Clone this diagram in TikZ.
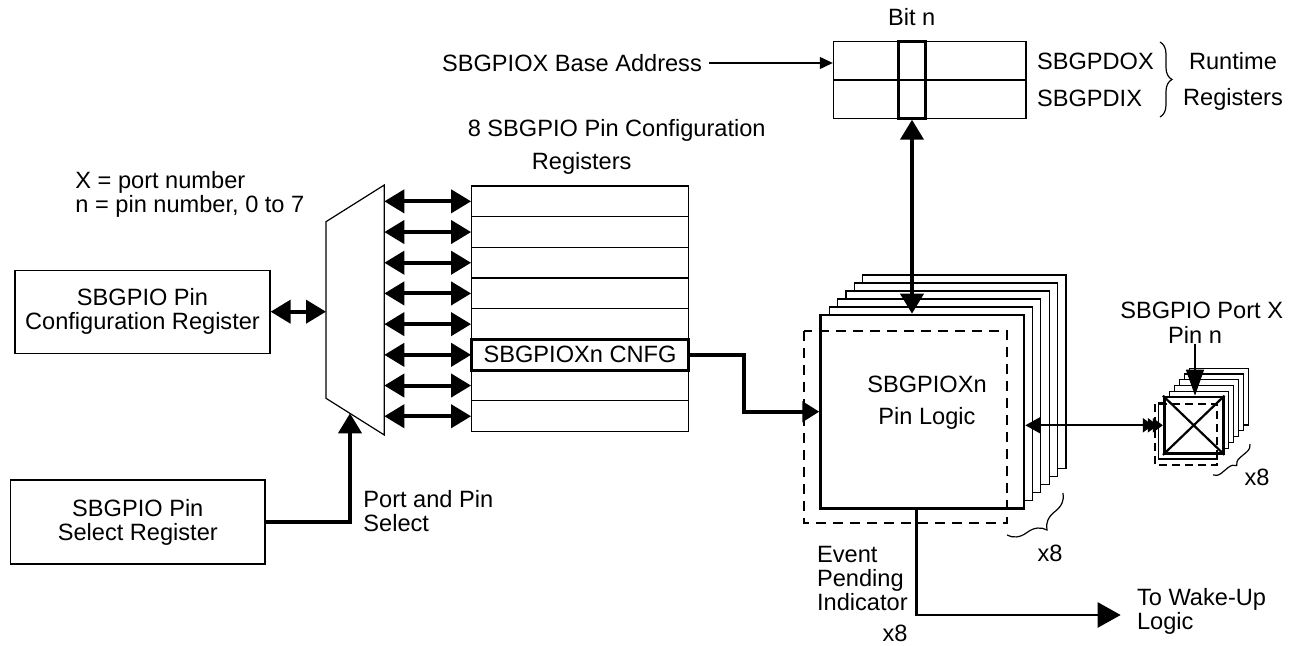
\documentclass[tikz,border=0pt]{standalone}
\usepackage{fontspec}
\setmainfont{Liberation Sans}
\usetikzlibrary{arrows.meta,decorations.pathreplacing}
\tikzset{>=latex}
\tikzset{
  box/.style={draw,line width=0.6pt,fill=white,inner sep=0pt,align=center},
  reg/.style={draw,line width=0.6pt,fill=white,minimum width=108.3pt,minimum height=15.35pt,inner sep=0pt},
  txt/.style={inner sep=0pt,align=center},
  bus/.style={line width=2pt,arrows={Triangle[length=10pt,width=11.5pt]-Triangle[length=10pt,width=11.5pt]}},
  wire/.style={line width=2pt,-{Triangle[length=10pt,width=11.5pt]}},
  thin/.style={line width=0.6pt},
  brc/.style={thin,decorate,decoration={brace,amplitude=#1}},
}

\begin{document}
\begin{tikzpicture}[x=0.5pt,y=-0.5pt,every node/.style={font=\fontsize{11.8}{12}\selectfont}]
  \useasboundingbox (0,0) rectangle (1298,646);
  % left registers
  \node[txt,anchor=west,align=left] (legend) at (75,194) {X = port number\\n = pin number, 0 to 7};
  \node[box,minimum width=127.5pt,minimum height=41.5pt] (cfgreg) at (142.5,311.7) {SBGPIO Pin\\Configuration Register};
  \node[box,minimum width=127.2pt,minimum height=42pt] (selreg) at (137.8,522) {SBGPIO Pin\\Select Register};
  % mux
  \draw[thin] (326,221.7) -- (384.3,185) -- (384.3,435) -- (326,398.3) -- cycle;
  \coordinate (muxin) at (326,311.7);
  \coordinate (muxout) at (384.3,300);
  \coordinate (muxsel) at (350,413.3);
  \draw[bus] (cfgreg.east) -- (muxin);
  \draw[wire] (selreg.east) -| (muxsel);
  \node[txt,anchor=west,align=left] (portsel) at (363,511.5) {Port and Pin\\Select};
  % pin configuration registers
  \node[txt] (cfgtitle) at (616.7,130) {8 SBGPIO Pin Configuration};
  \node[txt] (cfgtitle2) at (581.7,163.3) {Registers};
  \foreach \i in {0,...,7} {
    \node[reg] (row\i) at (580,201.35+30.7*\i) {};
    \draw[bus] (muxout |- row\i.west) -- (row\i.west);
  }
  \node[reg,line width=1.5pt] (cnfg) at (row5) {SBGPIOXn CNFG};
  % runtime registers
  \node[txt] (base) at (572,63) {SBGPIOX Base Address};
  \node[box,minimum width=96.3pt,minimum height=19.2pt] (dox) at (929.7,60.8) {};
  \node[box,minimum width=96.3pt,minimum height=19.2pt] (dix) at (929.7,99.2) {};
  \node[draw,line width=1.4pt,minimum width=13.7pt,minimum height=38.3pt,inner sep=0pt] (bitn) at (912,80) {};
  \node[txt] (bitlbl) at (911.7,17) {Bit n};
  \draw[thin,-{Triangle[length=6.5pt,width=6pt]}] ([xshift=3.5pt]base.east) -- (base.east -| dox.west);
  \node[txt,anchor=west] (doxlbl) at (1036.7,61.7) {SBGPDOX};
  \node[txt,anchor=west] (dixlbl) at (1036.7,98.3) {SBGPDIX};
  \draw[brc=6pt] (1160,42) -- (1160,117);
  \node[txt] (runtime) at (1233,81) {Runtime\\[6pt]Registers};
  % pin logic stack
  \foreach \k in {5,4,...,1}
    \draw[thin,fill=white] (820.7+8.4*\k,508.3-8*\k) rectangle (1024+8.4*\k,315-8*\k);
  \node[draw,line width=1.3pt,fill=white,minimum width=101.7pt,minimum height=96.7pt] (logic) at (922.3,411.7) {};
  \node[txt] (logictxt) at (927,402.5) {SBGPIOXn\\[3.8pt]Pin Logic};
  \draw[thin,dash pattern=on 5pt off 3.5pt] (804,331) rectangle (1007,523);
  \draw[brc=10pt] (1063,493) -- (1007,535);
  \node[txt] (logicx8) at (1050,553) {x8};
  \draw[bus] (bitn.south) -- (bitn.south |- logic.north);
  \draw[wire,-{Triangle[length=8.5pt,width=10pt]}] (cnfg.east) -- ++(54,0) |- (logic.west);
  % port pin stack
  \foreach \k in {5,4,...,1}
    \draw[thin,fill=white] (1164.3+5*\k,454-5.8*\k) rectangle (1223.3+5*\k,397.3-5.8*\k);
  \draw[thin,fill=white] (1158.3,402.3) rectangle (1217.3,459);
  \node[draw,line width=1.3pt,fill=white,minimum width=29.5pt,minimum height=28.3pt,inner sep=0pt] (pin) at (1193.7,425.3) {};
  \draw[line width=1.1pt] (pin.north west) -- (pin.south east) (pin.south west) -- (pin.north east);
  \draw[thin,dash pattern=on 4pt off 2.5pt] (1155,404) rectangle (1217,465);
  \node[txt] (portlbl) at (1201.7,310) {SBGPIO Port X};
  \node[txt] (pinn) at (1195,335) {Pin n};
  \draw[thin,-{Triangle[length=13pt,width=9pt]}] (pinn.south) -- (pinn.south |- pin.north);
  \draw[line width=1pt,{Triangle[length=7.5pt,width=8pt]}-{Triangle[length=5pt,width=7pt,sep=-2.5pt]Triangle[length=5pt,width=7pt,sep=-2.5pt]Triangle[length=5pt,width=7pt]}] (logic.east |- pin.west) -- (pin.west);
  \draw[brc=4pt] (1250,444) -- (1213,475);
  \node[txt] (pinx8) at (1257,477) {x8};
  % event pending
  \node[txt,anchor=west,align=left] (event) at (816.7,578) {Event\\Pending\\Indicator};
  \node[txt] (eventx8) at (895,633) {x8};
  \node[txt,anchor=west,align=left] (wake) at (1136.7,611) {To Wake-Up\\Logic};
  \draw[line width=1.2pt,-{Triangle[length=11.5pt,width=12.5pt]},shorten >=8pt] ([xshift=-3pt]logic.south) |- ([yshift=-2pt]wake.west);
\end{tikzpicture}
\end{document}
